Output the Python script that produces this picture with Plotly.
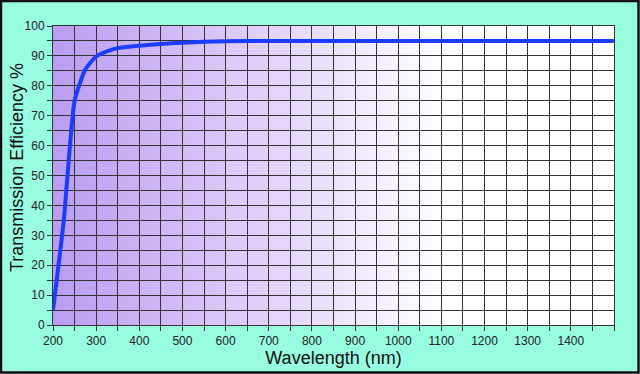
import base64
import plotly.graph_objects as go

# ---- data ----
wavelength = [200, 225, 250, 275, 300, 325, 350, 400, 450, 500, 550, 600, 700, 800,
              900, 1000, 1100, 1200, 1300, 1400, 1500]
efficiency = [5, 35, 75, 85.5, 89.8, 91.5, 92.6, 93.4, 94.0, 94.4, 94.7, 94.9, 95.0, 95.0,
              95.0, 95.0, 95.0, 95.0, 95.0, 95.0, 95.0]
x_tickvals = [200, 300, 400, 500, 600, 700, 800, 900, 1000, 1100, 1200, 1300, 1400]
x_minor = list(range(200, 1501, 50))
y_tickvals = [0, 10, 20, 30, 40, 50, 60, 70, 80, 90, 100]
y_minor = list(range(0, 101, 5))

W, H = 640, 374
L, R, T, B = 53, 26, 26, 49
pw, ph = W - L - R, H - T - B

svg = ('<svg xmlns="http://www.w3.org/2000/svg" width="1000" height="100" preserveAspectRatio="none">'
       '<defs><linearGradient id="g" x1="0" y1="0" x2="1" y2="0">'
       '<stop offset="0" stop-color="#BA9CF1"/>'
       '<stop offset="0.35" stop-color="#DFCEF9"/>'
       '<stop offset="0.70" stop-color="#FFFFFF"/>'
       '<stop offset="1" stop-color="#FFFFFF"/>'
       '</linearGradient></defs>'
       '<rect width="1000" height="100" fill="url(#g)"/></svg>')
src = "data:image/svg+xml;base64," + base64.b64encode(svg.encode()).decode()

fig = go.Figure()
fig.add_trace(go.Scatter(
    x=wavelength, y=efficiency, mode="lines",
    line=dict(color="#1C3CFF", width=4, shape="spline", smoothing=0.5),
    hoverinfo="skip", showlegend=False))

fig.add_layout_image(dict(source=src, xref="x", yref="y", x=200, y=100,
                          sizex=1300, sizey=100, sizing="stretch", layer="below"))

# outer border
fig.add_shape(type="rect", xref="paper", yref="paper",
              x0=(-L + 1) / pw, x1=1 + (R - 1.5) / pw,
              y0=-(B - 1.5) / ph, y1=1 + (T - 1) / ph,
              line=dict(color="#111111", width=2.5), fillcolor="rgba(0,0,0,0)", layer="above")

font_tick = dict(family="Liberation Sans, Arial, sans-serif", size=12, color="#222222")
font_title = dict(family="Liberation Sans, Arial, sans-serif", size=18, color="#111111")

fig.add_annotation(text="Transmission Efficiency %", xref="paper", yref="paper",
                   x=(17 - L) / pw, y=(325 - 168) / ph, textangle=-90,
                   showarrow=False, font=font_title, xanchor="center", yanchor="middle")

fig.update_xaxes(
    range=[200, 1500], tickmode="array", tickvals=x_tickvals,
    ticks="outside", ticklen=5, tickcolor="#333333", tickfont=font_tick,
    showgrid=True, gridcolor="#333333", gridwidth=1,
    minor=dict(tickmode="array", tickvals=x_minor, ticks="outside", ticklen=5,
               tickcolor="#333333", showgrid=True, gridcolor="#333333", gridwidth=1),
    showline=True, linecolor="#333333", linewidth=1, mirror=True,
    zeroline=False, fixedrange=True, automargin=False,
    title=dict(text="Wavelength (nm)", font=font_title, standoff=3))
fig.update_yaxes(
    range=[0, 100], tickmode="array", tickvals=y_tickvals,
    ticks="outside", ticklen=5, tickcolor="#333333", tickfont=font_tick,
    showgrid=True, gridcolor="#333333", gridwidth=1,
    minor=dict(tickmode="array", tickvals=y_minor, ticks="outside", ticklen=5,
               tickcolor="#333333", showgrid=True, gridcolor="#333333", gridwidth=1),
    showline=True, linecolor="#333333", linewidth=1, mirror=True,
    zeroline=False, fixedrange=True, automargin=False)

fig.update_layout(
    width=W, height=H, autosize=False,
    margin=dict(l=L, r=R, t=T, b=B, pad=0),
    paper_bgcolor="#98FCE1", plot_bgcolor="rgba(0,0,0,0)",
    showlegend=False)

fig.write_html("out.html", config={"displayModeBar": False})
